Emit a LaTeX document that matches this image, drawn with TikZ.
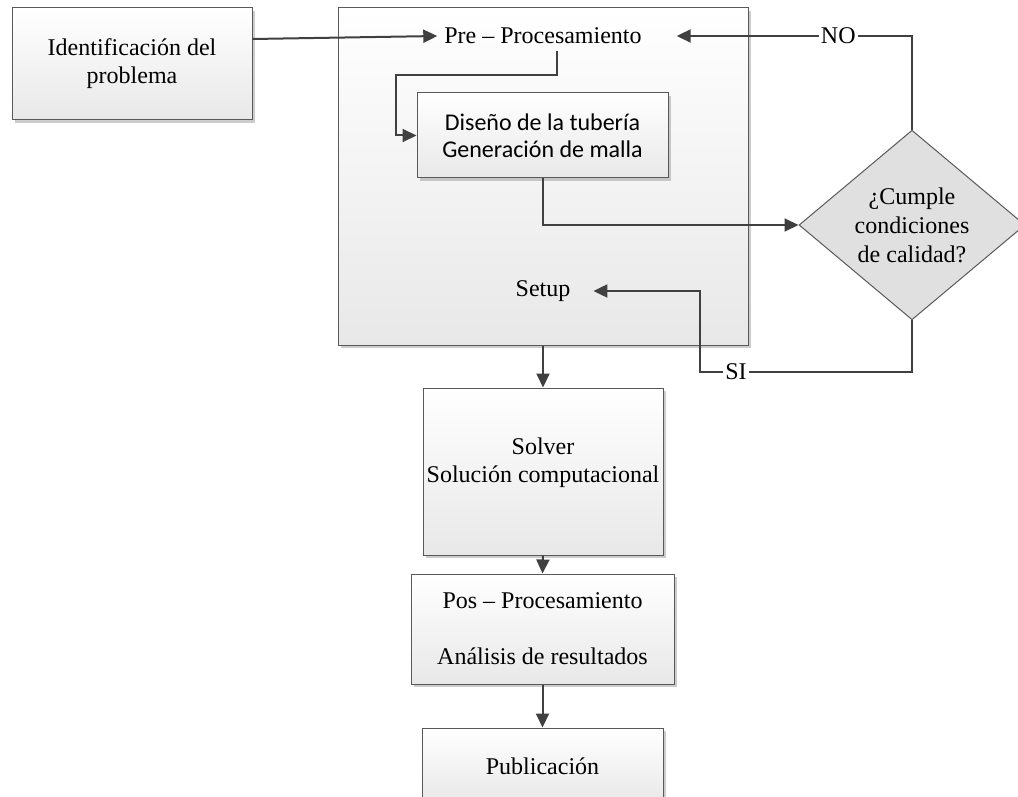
\documentclass[tikz,border=0pt]{standalone}
\usepackage{fontspec}
\setmainfont{Liberation Serif}
\newfontfamily\calibrifont{Carlito}
\usetikzlibrary{shapes.geometric,arrows.meta,shadows,positioning}
\tikzset{block/.style={draw=black!65, line width=0.5pt, top color=white, bottom color=black!9,
        align=center, inner sep=0pt,
        drop shadow={shadow xshift=1.5pt, shadow yshift=-1.5pt, fill=black!40, opacity=0.5}},
decision/.style={diamond, draw=black!65, line width=0.5pt, fill=black!12, align=center, inner sep=0pt},
flow/.style={draw=black!75, line width=1pt, -{Triangle[length=7pt,width=6.5pt]}},
tag/.style={fill=white, inner sep=1pt}
}

\begin{document}
\begin{tikzpicture}[x=0.5pt, y=-0.5pt, font=\fontsize{12}{14}\selectfont]
        \useasboundingbox (0,0) rectangle (1018,797);
        \node[block, minimum width=205pt, minimum height=168.5pt] (prebox) at (543,176.5) {};
        \node[block, minimum width=120pt, minimum height=56pt]    (ident)  at (132,64)      {Identificación del\\problema};
        \node                                                     (pre)    at (543,36)      {Pre – Procesamiento};
        \node                                                     (setup)  at (543,291)     {Setup};
        \node[block, minimum width=125.5pt, minimum height=42.5pt,
              font=\calibrifont\fontsize{12}{13.5}\selectfont]    (diseno) at (542.5,135.5) {Diseño de la tubería\\Generación de malla};
        \node[decision, minimum width=113pt, minimum height=92pt,
              font=\fontsize{12}{14.5}\selectfont]                (cumple) at (912,225)     {¿Cumple\\condiciones\\de calidad?};
        \node[block, minimum width=120pt, minimum height=83.5pt]  (solver) at (543,471.5)   {Solver\\Solución computacional\\[-3pt]\mbox{}};
        \node[block, minimum width=131.5pt, minimum height=55pt]  (pos)    at (542.5,629)   {Pos – Procesamiento\\[14pt]Análisis de resultados};
        \node[block, minimum width=120.5pt, minimum height=38pt]  (pub)    at (542.5,766)   {Publicación};
        \coordinate (k1) at (396,75);
        \coordinate (k2) at (700,372);

        \draw[flow] ([yshift=12.5pt]ident.east) -- (pre.west);
        \draw[flow] ([xshift=7pt]pre.south) |- (k1) |- (diseno.west);
        \draw[flow] (diseno.south) |- (cumple.west);
        \draw[flow, shorten >=14pt] (cumple.north) |- node[tag, pos=0.64] {NO} (pre.east);
        \draw[flow, shorten >=8pt] (cumple.south) |- node[tag, pos=0.915] {SI} (k2) |- (setup.east);
        \draw[flow] (prebox.south) -- (solver.north);
        \draw[flow] (solver.south) -- (pos.north);
        \draw[flow] (pos.south) -- (pub.north);
\end{tikzpicture}
\end{document}
